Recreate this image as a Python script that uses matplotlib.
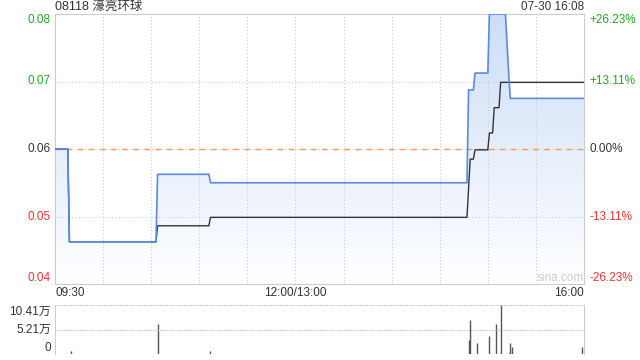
import numpy as np
import matplotlib
matplotlib.use('Agg')
import matplotlib.pyplot as plt
from matplotlib.colors import LinearSegmentedColormap

plt.rcParams['font.family'] = ['Liberation Sans', 'Noto Sans CJK SC', 'DejaVu Sans']

# minutes since 09:30 (lunch break removed), 330 = 16:00
price_t = [0, 8, 9, 63, 64, 96, 97, 257, 258, 261, 262, 270, 271, 281, 283, 284, 330]
price = [0.061, 0.061, 0.050, 0.050, 0.058, 0.058, 0.057, 0.057, 0.068, 0.068,
         0.070, 0.070, 0.077, 0.077, 0.070, 0.067, 0.067]

avg_t = [0, 8, 9, 63, 64, 96, 97, 257, 259, 261, 262, 270, 271, 273, 274, 277, 278, 330]
avg = [0.061, 0.061, 0.050, 0.050, 0.0519, 0.0519, 0.0529, 0.0529, 0.0598, 0.0598,
       0.0609, 0.0609, 0.0629, 0.0629, 0.0659, 0.0659, 0.0689, 0.0689]

vol_t = [10, 64, 97, 258, 259, 263, 271, 275, 278, 283, 284, 285, 329]
vol = [7000, 64000, 6000, 30000, 72000, 23000, 38000, 64000, 104100, 3000, 23000, 15000, 15000]

pre_close = 0.061
y_ticks = [0.045, 0.053, 0.061, 0.069, 0.077]
y_labels = ['0.04', '0.05', '0.06', '0.07', '0.08']
pct_labels = ['-26.23%', '-13.11%', '0.00%', '+13.11%', '+26.23%']
x_labels = ['09:30', '12:00/13:00', '16:00']
vol_ticks = [0, 52050, 104100]
vol_labels = ['0', '5.21万', '10.41万']

green = '#22a822'
red = '#f23030'
dark = '#333333'
grid_c = '#cccccc'

fig = plt.figure(figsize=(6.4, 3.6), dpi=100)
ax = fig.add_axes([55 / 640, 1 - 284 / 360, 529 / 640, 270 / 360])
ymin, ymax = y_ticks[0], y_ticks[-1]

# gradient fill under price line
cmap = LinearSegmentedColormap.from_list('g', [(1, 1, 1), (0.80, 0.87, 0.97)])
grad = np.linspace(0, 1, 256).reshape(-1, 1)
img = ax.imshow(grad, cmap=cmap, aspect='auto', origin='lower',
                extent=[0, 330, ymin, ymax], zorder=1)
poly = ax.fill_between(price_t, price, ymin, color='none', lw=0)
img.set_clip_path(poly.get_paths()[0], transform=ax.transData)

for m in range(30, 330, 30):
    ax.axvline(m, color=grid_c, ls=(0, (1, 2)), lw=0.8, zorder=2)
for yv in y_ticks[1:-1]:
    ax.axhline(yv, color=grid_c, ls=(0, (1, 2)), lw=0.8, zorder=2)
ax.axhline(pre_close, color='#f59a5a', ls=(0, (4, 4)), lw=1, zorder=2)

ax.plot(avg_t, avg, color=dark, lw=1, zorder=3)
ax.plot(price_t, price, color='#5a8ae6', lw=1.2, zorder=4)

ax.set_xlim(0, 330)
ax.set_ylim(ymin, ymax)
ax.set_xticks([])
ax.set_yticks([])
for s in ax.spines.values():
    s.set_color(grid_c)

# tick labels; the outer ones sit a little inside the frame
tick_cols = [red, red, dark, green, green]
for i, (yv, lab, pl, c) in enumerate(zip(y_ticks, y_labels, pct_labels, tick_cols)):
    yf = (yv - ymin) / (ymax - ymin)
    if i == 0:
        yf += 6 / 270
    elif i == len(y_ticks) - 1:
        yf -= 6 / 270
    ax.text(-0.008, yf, lab, color=c, fontsize=8.5, ha='right', va='center', transform=ax.transAxes)
    ax.text(1.011, yf, pl, color=c, fontsize=8.5, ha='left', va='center', transform=ax.transAxes)

ax.text(0, -0.033, x_labels[0], ha='left', va='center', fontsize=8.5, color=dark, transform=ax.transAxes)
ax.text(150 / 330, -0.033, x_labels[1], ha='center', va='center', fontsize=8.5, color=dark, transform=ax.transAxes)
ax.text(1, -0.033, x_labels[2], ha='right', va='center', fontsize=8.5, color=dark, transform=ax.transAxes)

ax.text(0, 1.027, '08118 濠亮环球', ha='left', va='center', fontsize=9, color=dark, transform=ax.transAxes)
ax.text(1, 1.027, '07-30 16:08', ha='right', va='center', fontsize=8.5, color=dark, transform=ax.transAxes)
ax.text(0.955, 0.022, 'sina.com', ha='center', va='center', fontsize=8.5, color='#cccccc', transform=ax.transAxes)

# volume panel
vax = fig.add_axes([55 / 640, 1 - 354 / 360, 529 / 640, 49 / 360])
vax.vlines(vol_t, 0, vol, color='#555555', lw=1)
vax.set_xlim(0, 330)
vax.set_ylim(0, vol_ticks[-1])
vax.set_xticks([])
vax.set_yticks([])
for yv in vol_ticks:
    vax.axhline(yv, color='#bbbbbb', ls=(0, (1, 1)), lw=0.8)
for side in ['top', 'bottom']:
    vax.spines[side].set_visible(False)
for side in ['left', 'right']:
    vax.spines[side].set_color(grid_c)
vax.text(-0.008, 1 - 7 / 49, vol_labels[2], ha='right', va='center', fontsize=8.5, color=dark,
         transform=vax.transAxes)
vax.text(-0.008, 0.5, vol_labels[1], ha='right', va='center', fontsize=8.5, color=dark,
         transform=vax.transAxes)
vax.text(-0.008, 6 / 49, vol_labels[0], ha='right', va='center', fontsize=8.5, color=dark,
         transform=vax.transAxes)

fig.savefig('out.png', dpi=100)
